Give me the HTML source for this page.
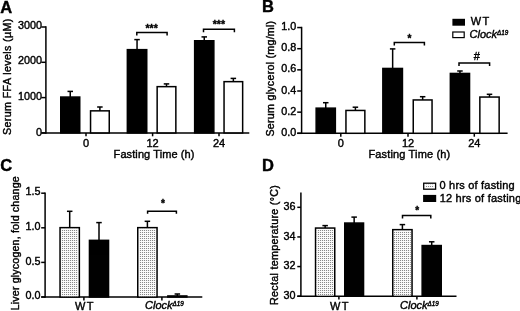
<!DOCTYPE html>
<html><head><meta charset="utf-8"><title>Figure</title>
<style>
html,body{margin:0;padding:0;background:#fff;}
svg{display:block;font-family:"Liberation Sans", sans-serif;fill:#000;opacity:0.999;will-change:transform;}
text{stroke:#000;stroke-width:0.4px;}
</style></head>
<body>
<svg width="520" height="311" viewBox="0 0 520 311">
<defs>
<pattern id="dots" width="2" height="2" patternUnits="userSpaceOnUse">
<rect width="2" height="2" fill="#fbfbfb"/>
<rect x="0" y="0" width="1" height="1" fill="#888888"/>
<rect x="1" y="0" width="1" height="1" fill="#f2f2f2"/>
</pattern>
</defs>
<rect width="520" height="311" fill="#fff"/>
<text x="0.2" y="12.5" font-size="16.5" text-anchor="start" font-weight="bold" font-style="normal" >A</text>
<line x1="45.9" y1="26.25" x2="45.9" y2="133.65" stroke="#000" stroke-width="1.5"/>
<line x1="41.3" y1="132.9" x2="249.3" y2="132.9" stroke="#000" stroke-width="1.5"/>
<line x1="41.3" y1="132.9" x2="45.9" y2="132.9" stroke="#000" stroke-width="1.5"/>
<text x="42.0" y="136.0" font-size="10.8" text-anchor="end" font-weight="normal" font-style="normal" >0</text>
<line x1="41.3" y1="97.600" x2="45.9" y2="97.600" stroke="#000" stroke-width="1.5"/>
<text x="42.0" y="99.600" font-size="10.8" text-anchor="end" font-weight="normal" font-style="normal" >1000</text>
<line x1="41.3" y1="62.300" x2="45.9" y2="62.300" stroke="#000" stroke-width="1.5"/>
<text x="42.0" y="64.300" font-size="10.8" text-anchor="end" font-weight="normal" font-style="normal" >2000</text>
<line x1="41.3" y1="27.000" x2="45.9" y2="27.000" stroke="#000" stroke-width="1.5"/>
<text x="42.0" y="29.200" font-size="10.8" text-anchor="end" font-weight="normal" font-style="normal" >3000</text>
<text transform="translate(11.0,135) rotate(-90)" font-size="10.7" textLength="116.4" lengthAdjust="spacing">Serum FFA levels (µM)</text>
<line x1="70.25" y1="91.4" x2="70.25" y2="97.3" stroke="#000" stroke-width="1.5"/>
<line x1="67.5" y1="91.4" x2="73.0" y2="91.4" stroke="#000" stroke-width="1.5"/>
<rect x="60.75" y="97.05" width="19.0" height="35.850" fill="#000" stroke="#000" stroke-width="1.5"/>
<line x1="99.9" y1="107" x2="99.9" y2="111.1" stroke="#000" stroke-width="1.5"/>
<line x1="97.15" y1="107" x2="102.65" y2="107" stroke="#000" stroke-width="1.5"/>
<rect x="90.55" y="110.85" width="18.700" height="22.050" fill="#fff" stroke="#000" stroke-width="1.5"/>
<line x1="137.05" y1="39.6" x2="137.05" y2="49.9" stroke="#000" stroke-width="1.5"/>
<line x1="134.3" y1="39.6" x2="139.8" y2="39.6" stroke="#000" stroke-width="1.5"/>
<rect x="127.35" y="49.65" width="19.400" height="83.25" fill="#000" stroke="#000" stroke-width="1.5"/>
<line x1="166.5" y1="83.9" x2="166.5" y2="86.9" stroke="#000" stroke-width="1.5"/>
<line x1="163.75" y1="83.9" x2="169.25" y2="83.9" stroke="#000" stroke-width="1.5"/>
<rect x="157.15" y="86.65" width="18.699" height="46.25" fill="#fff" stroke="#000" stroke-width="1.5"/>
<line x1="204.25" y1="36.9" x2="204.25" y2="41.0" stroke="#000" stroke-width="1.5"/>
<line x1="201.5" y1="36.9" x2="207.0" y2="36.9" stroke="#000" stroke-width="1.5"/>
<rect x="194.65" y="40.75" width="19.199" height="92.15" fill="#000" stroke="#000" stroke-width="1.5"/>
<line x1="233.350" y1="78.4" x2="233.350" y2="81.9" stroke="#000" stroke-width="1.5"/>
<line x1="230.600" y1="78.4" x2="236.100" y2="78.4" stroke="#000" stroke-width="1.5"/>
<rect x="224.05" y="81.65" width="18.599" height="51.25" fill="#fff" stroke="#000" stroke-width="1.5"/>
<line x1="86" y1="132.9" x2="86" y2="136.3" stroke="#000" stroke-width="1.5"/>
<text x="86" y="147.1" font-size="11" text-anchor="middle" font-weight="normal" font-style="normal" >0</text>
<line x1="152.6" y1="132.9" x2="152.6" y2="136.3" stroke="#000" stroke-width="1.5"/>
<text x="152.6" y="147.1" font-size="11" text-anchor="middle" font-weight="normal" font-style="normal" >12</text>
<line x1="219.0" y1="132.9" x2="219.0" y2="136.3" stroke="#000" stroke-width="1.5"/>
<text x="219.0" y="147.1" font-size="11" text-anchor="middle" font-weight="normal" font-style="normal" >24</text>
<text x="113.6" y="157.9" font-size="11" text-anchor="start" font-weight="normal" font-style="normal"  textLength="80.8" lengthAdjust="spacing">Fasting Time (h)</text>
<polyline points="136.8,35.6 136.8,32.6 167.1,32.6 167.1,35.6" fill="none" stroke="#000" stroke-width="1.5"/>
<text x="151.6" y="31.5" font-size="10.5" text-anchor="middle" font-weight="bold" font-style="normal" >***</text>
<polyline points="203.5,32.3 203.5,29.3 234.4,29.3 234.4,32.3" fill="none" stroke="#000" stroke-width="1.5"/>
<text x="218.9" y="28.2" font-size="10.5" text-anchor="middle" font-weight="bold" font-style="normal" >***</text>
<text x="261.9" y="12.4" font-size="16.5" text-anchor="start" font-weight="bold" font-style="normal" >B</text>
<line x1="301.6" y1="26.8" x2="301.6" y2="134.05" stroke="#000" stroke-width="1.5"/>
<line x1="297.2" y1="133.3" x2="507.6" y2="133.3" stroke="#000" stroke-width="1.5"/>
<line x1="297.2" y1="133.3" x2="301.6" y2="133.3" stroke="#000" stroke-width="1.5"/>
<text x="296.3" y="135.9" font-size="10.8" text-anchor="end" font-weight="normal" font-style="normal" >0.0</text>
<line x1="297.2" y1="112.15" x2="301.6" y2="112.15" stroke="#000" stroke-width="1.5"/>
<text x="296.3" y="114.75" font-size="10.8" text-anchor="end" font-weight="normal" font-style="normal" >0.2</text>
<line x1="297.2" y1="91.000" x2="301.6" y2="91.000" stroke="#000" stroke-width="1.5"/>
<text x="296.3" y="93.600" font-size="10.8" text-anchor="end" font-weight="normal" font-style="normal" >0.4</text>
<line x1="297.2" y1="69.850" x2="301.6" y2="69.850" stroke="#000" stroke-width="1.5"/>
<text x="296.3" y="72.450" font-size="10.8" text-anchor="end" font-weight="normal" font-style="normal" >0.6</text>
<line x1="297.2" y1="48.700" x2="301.6" y2="48.700" stroke="#000" stroke-width="1.5"/>
<text x="296.3" y="51.300" font-size="10.8" text-anchor="end" font-weight="normal" font-style="normal" >0.8</text>
<line x1="297.2" y1="27.550" x2="301.6" y2="27.550" stroke="#000" stroke-width="1.5"/>
<text x="296.3" y="30.150" font-size="10.8" text-anchor="end" font-weight="normal" font-style="normal" >1.0</text>
<text transform="translate(273.6,136.5) rotate(-90)" font-size="10.7" textLength="115.7" lengthAdjust="spacing">Serum glycerol (mg/ml)</text>
<line x1="325.75" y1="102.7" x2="325.75" y2="108.4" stroke="#000" stroke-width="1.5"/>
<line x1="323.0" y1="102.7" x2="328.5" y2="102.7" stroke="#000" stroke-width="1.5"/>
<rect x="316.15" y="108.15" width="19.200" height="25.150" fill="#000" stroke="#000" stroke-width="1.5"/>
<line x1="355.4" y1="107.2" x2="355.4" y2="110.7" stroke="#000" stroke-width="1.5"/>
<line x1="352.65" y1="107.2" x2="358.15" y2="107.2" stroke="#000" stroke-width="1.5"/>
<rect x="345.95" y="110.45" width="18.900" height="22.850" fill="#fff" stroke="#000" stroke-width="1.5"/>
<line x1="392.65" y1="48.9" x2="392.65" y2="68.7" stroke="#000" stroke-width="1.5"/>
<line x1="389.9" y1="48.9" x2="395.4" y2="48.9" stroke="#000" stroke-width="1.5"/>
<rect x="382.85" y="68.45" width="19.599" height="64.850" fill="#000" stroke="#000" stroke-width="1.5"/>
<line x1="422.65" y1="96.7" x2="422.65" y2="100.2" stroke="#000" stroke-width="1.5"/>
<line x1="419.9" y1="96.7" x2="425.4" y2="96.7" stroke="#000" stroke-width="1.5"/>
<rect x="413.25" y="99.95" width="18.800" height="33.350" fill="#fff" stroke="#000" stroke-width="1.5"/>
<line x1="459.950" y1="71" x2="459.950" y2="73.7" stroke="#000" stroke-width="1.5"/>
<line x1="457.200" y1="71" x2="462.700" y2="71" stroke="#000" stroke-width="1.5"/>
<rect x="450.35" y="73.45" width="19.199" height="59.850" fill="#000" stroke="#000" stroke-width="1.5"/>
<line x1="489.5" y1="94.3" x2="489.5" y2="97.3" stroke="#000" stroke-width="1.5"/>
<line x1="486.75" y1="94.3" x2="492.25" y2="94.3" stroke="#000" stroke-width="1.5"/>
<rect x="479.85" y="97.05" width="19.299" height="36.250" fill="#fff" stroke="#000" stroke-width="1.5"/>
<line x1="340.8" y1="133.3" x2="340.8" y2="136.700" stroke="#000" stroke-width="1.5"/>
<text x="340.8" y="146.8" font-size="11" text-anchor="middle" font-weight="normal" font-style="normal" >0</text>
<line x1="408.0" y1="133.3" x2="408.0" y2="136.700" stroke="#000" stroke-width="1.5"/>
<text x="408.0" y="146.8" font-size="11" text-anchor="middle" font-weight="normal" font-style="normal" >12</text>
<line x1="474.3" y1="133.3" x2="474.3" y2="136.700" stroke="#000" stroke-width="1.5"/>
<text x="474.3" y="146.8" font-size="11" text-anchor="middle" font-weight="normal" font-style="normal" >24</text>
<text x="368.4" y="157.8" font-size="11" text-anchor="start" font-weight="normal" font-style="normal"  textLength="81.8" lengthAdjust="spacing">Fasting Time (h)</text>
<polyline points="394.3,45.6 394.3,42.6 424.4,42.6 424.4,45.6" fill="none" stroke="#000" stroke-width="1.5"/>
<text x="409.4" y="41.5" font-size="10" text-anchor="middle" font-weight="bold" font-style="normal" >*</text>
<polyline points="459,66.1 459,63.1 489.6,63.1 489.6,66.1" fill="none" stroke="#000" stroke-width="1.5"/>
<text x="476.7" y="60.2" font-size="11" text-anchor="middle" font-weight="normal" font-style="normal" >#</text>
<rect x="452.4" y="18.8" width="12.6" height="6.9" fill="#000"/>
<text x="470.8" y="25.2" font-size="11" text-anchor="start" font-weight="normal" font-style="normal"  textLength="18.4" lengthAdjust="spacing">WT</text>
<rect x="452.8" y="32" width="11.4" height="5.6" fill="#fff" stroke="#000" stroke-width="1.2"/>
<text x="469.5" y="37.6" font-size="11" text-anchor="start" font-weight="normal" font-style="italic" >Clock<tspan font-size="6.3" dy="-3.1">Δ19</tspan></text>
<text x="0.2" y="170.6" font-size="16.5" text-anchor="start" font-weight="bold" font-style="normal" >C</text>
<line x1="45.1" y1="192.4" x2="45.1" y2="297.75" stroke="#000" stroke-width="1.5"/>
<line x1="41.2" y1="297.0" x2="202.3" y2="297.0" stroke="#000" stroke-width="1.5"/>
<line x1="41.2" y1="297.0" x2="45.1" y2="297.0" stroke="#000" stroke-width="1.5"/>
<text x="40.6" y="299.1" font-size="10.8" text-anchor="end" font-weight="normal" font-style="normal" >0.0</text>
<line x1="41.2" y1="262.4" x2="45.1" y2="262.4" stroke="#000" stroke-width="1.5"/>
<text x="40.6" y="264.5" font-size="10.8" text-anchor="end" font-weight="normal" font-style="normal" >0.5</text>
<line x1="41.2" y1="227.8" x2="45.1" y2="227.8" stroke="#000" stroke-width="1.5"/>
<text x="40.6" y="229.9" font-size="10.8" text-anchor="end" font-weight="normal" font-style="normal" >1.0</text>
<line x1="41.2" y1="193.2" x2="45.1" y2="193.2" stroke="#000" stroke-width="1.5"/>
<text x="40.6" y="195.299" font-size="10.8" text-anchor="end" font-weight="normal" font-style="normal" >1.5</text>
<text transform="translate(19.2,310.3) rotate(-90)" font-size="10.7" textLength="134.0" lengthAdjust="spacing">Liver glycogen, fold change</text>
<line x1="69.699" y1="211.3" x2="69.699" y2="227.9" stroke="#000" stroke-width="1.5"/>
<line x1="66.949" y1="211.3" x2="72.449" y2="211.3" stroke="#000" stroke-width="1.5"/>
<rect x="60.05" y="227.65" width="19.299" height="69.35" fill="#fff" stroke="#000" stroke-width="1.5"/>
<rect x="61.3" y="228.9" width="16.799" height="67.35" fill="url(#dots)"/>
<line x1="99.0" y1="222.6" x2="99.0" y2="240.6" stroke="#000" stroke-width="1.5"/>
<line x1="96.25" y1="222.6" x2="101.75" y2="222.6" stroke="#000" stroke-width="1.5"/>
<rect x="89.45" y="240.35" width="19.099" height="56.650" fill="#000" stroke="#000" stroke-width="1.5"/>
<line x1="147.4" y1="221.3" x2="147.4" y2="227.9" stroke="#000" stroke-width="1.5"/>
<line x1="144.65" y1="221.3" x2="150.15" y2="221.3" stroke="#000" stroke-width="1.5"/>
<rect x="137.75" y="227.65" width="19.300" height="69.35" fill="#fff" stroke="#000" stroke-width="1.5"/>
<rect x="139.0" y="228.9" width="16.800" height="67.35" fill="url(#dots)"/>
<line x1="177.35" y1="294" x2="177.35" y2="296.2" stroke="#000" stroke-width="1.5"/>
<line x1="174.6" y1="294" x2="180.1" y2="294" stroke="#000" stroke-width="1.5"/>
<rect x="167.85" y="295.95" width="19.0" height="1.050" fill="#000" stroke="#000" stroke-width="1.5"/>
<line x1="83.9" y1="297.0" x2="83.9" y2="300.4" stroke="#000" stroke-width="1.5"/>
<line x1="161.9" y1="297.0" x2="161.9" y2="300.4" stroke="#000" stroke-width="1.5"/>
<text x="75.0" y="310.0" font-size="11" text-anchor="start" font-weight="normal" font-style="normal"  textLength="18.4" lengthAdjust="spacing">WT</text>
<text x="145" y="309.4" font-size="11" text-anchor="start" font-weight="normal" font-style="italic" >Clock<tspan font-size="6.3" dy="-3.1">Δ19</tspan></text>
<polyline points="147.6,213.799 147.6,211.2 176.4,211.2 176.4,213.799" fill="none" stroke="#000" stroke-width="1.5"/>
<text x="163" y="207.3" font-size="10" text-anchor="middle" font-weight="bold" font-style="normal" >*</text>
<text x="261.9" y="170.5" font-size="16.5" text-anchor="start" font-weight="bold" font-style="normal" >D</text>
<line x1="300.9" y1="192.4" x2="300.9" y2="296.95" stroke="#000" stroke-width="1.5"/>
<line x1="297.3" y1="296.2" x2="456.5" y2="296.2" stroke="#000" stroke-width="1.5"/>
<line x1="297.3" y1="296.2" x2="300.9" y2="296.2" stroke="#000" stroke-width="1.5"/>
<text x="295.4" y="298.8" font-size="10.8" text-anchor="end" font-weight="normal" font-style="normal" >30</text>
<line x1="297.3" y1="266.57" x2="300.9" y2="266.57" stroke="#000" stroke-width="1.5"/>
<text x="295.4" y="269.17" font-size="10.8" text-anchor="end" font-weight="normal" font-style="normal" >32</text>
<line x1="297.3" y1="236.94" x2="300.9" y2="236.94" stroke="#000" stroke-width="1.5"/>
<text x="295.4" y="239.54" font-size="10.8" text-anchor="end" font-weight="normal" font-style="normal" >34</text>
<line x1="297.3" y1="207.31" x2="300.9" y2="207.31" stroke="#000" stroke-width="1.5"/>
<text x="295.4" y="209.91" font-size="10.8" text-anchor="end" font-weight="normal" font-style="normal" >36</text>
<text transform="translate(278.2,304.9) rotate(-90)" font-size="10.7" textLength="119.699" lengthAdjust="spacing">Rectal temperature (°C)</text>
<line x1="325.15" y1="225.6" x2="325.15" y2="228.3" stroke="#000" stroke-width="1.5"/>
<line x1="322.4" y1="225.6" x2="327.9" y2="225.6" stroke="#000" stroke-width="1.5"/>
<rect x="315.55" y="228.05" width="19.199" height="68.149" fill="#fff" stroke="#000" stroke-width="1.5"/>
<rect x="316.8" y="229.3" width="16.699" height="66.149" fill="url(#dots)"/>
<line x1="354.15" y1="217.1" x2="354.15" y2="223.3" stroke="#000" stroke-width="1.5"/>
<line x1="351.4" y1="217.1" x2="356.9" y2="217.1" stroke="#000" stroke-width="1.5"/>
<rect x="344.75" y="223.05" width="18.800" height="73.149" fill="#000" stroke="#000" stroke-width="1.5"/>
<line x1="402.4" y1="224.6" x2="402.4" y2="229.9" stroke="#000" stroke-width="1.5"/>
<line x1="399.65" y1="224.6" x2="405.15" y2="224.6" stroke="#000" stroke-width="1.5"/>
<rect x="392.75" y="229.65" width="19.300" height="66.549" fill="#fff" stroke="#000" stroke-width="1.5"/>
<rect x="394.0" y="230.9" width="16.800" height="64.549" fill="url(#dots)"/>
<line x1="431.7" y1="241.8" x2="431.7" y2="245.8" stroke="#000" stroke-width="1.5"/>
<line x1="428.95" y1="241.8" x2="434.45" y2="241.8" stroke="#000" stroke-width="1.5"/>
<rect x="422.15" y="245.55" width="19.100" height="50.649" fill="#000" stroke="#000" stroke-width="1.5"/>
<line x1="338.9" y1="296.2" x2="338.9" y2="299.599" stroke="#000" stroke-width="1.5"/>
<line x1="416.9" y1="296.2" x2="416.9" y2="299.599" stroke="#000" stroke-width="1.5"/>
<text x="330.1" y="309.6" font-size="11" text-anchor="start" font-weight="normal" font-style="normal"  textLength="18.5" lengthAdjust="spacing">WT</text>
<text x="400" y="308.6" font-size="11" text-anchor="start" font-weight="normal" font-style="italic" >Clock<tspan font-size="6.3" dy="-3.1">Δ19</tspan></text>
<polyline points="402.5,218.4 402.5,215.6 430.8,215.6 430.8,218.4" fill="none" stroke="#000" stroke-width="1.5"/>
<text x="417.3" y="214.4" font-size="10" text-anchor="middle" font-weight="bold" font-style="normal" >*</text>
<rect x="423.7" y="183.2" width="11.9" height="6.0" fill="#fff" stroke="#000" stroke-width="1.3"/><rect x="425.2" y="184.7" width="8.9" height="3.0" fill="url(#dots)"/>
<text x="439.5" y="189.2" font-size="11" text-anchor="start" font-weight="normal" font-style="normal"  textLength="75.2" lengthAdjust="spacing">0 hrs of fasting</text>
<rect x="423.1" y="194.9" width="13.1" height="7.1" fill="#000"/>
<text x="439.7" y="201.8" font-size="11" text-anchor="start" font-weight="normal" font-style="normal"  textLength="81.6" lengthAdjust="spacing">12 hrs of fasting</text>
</svg>
</body></html>
